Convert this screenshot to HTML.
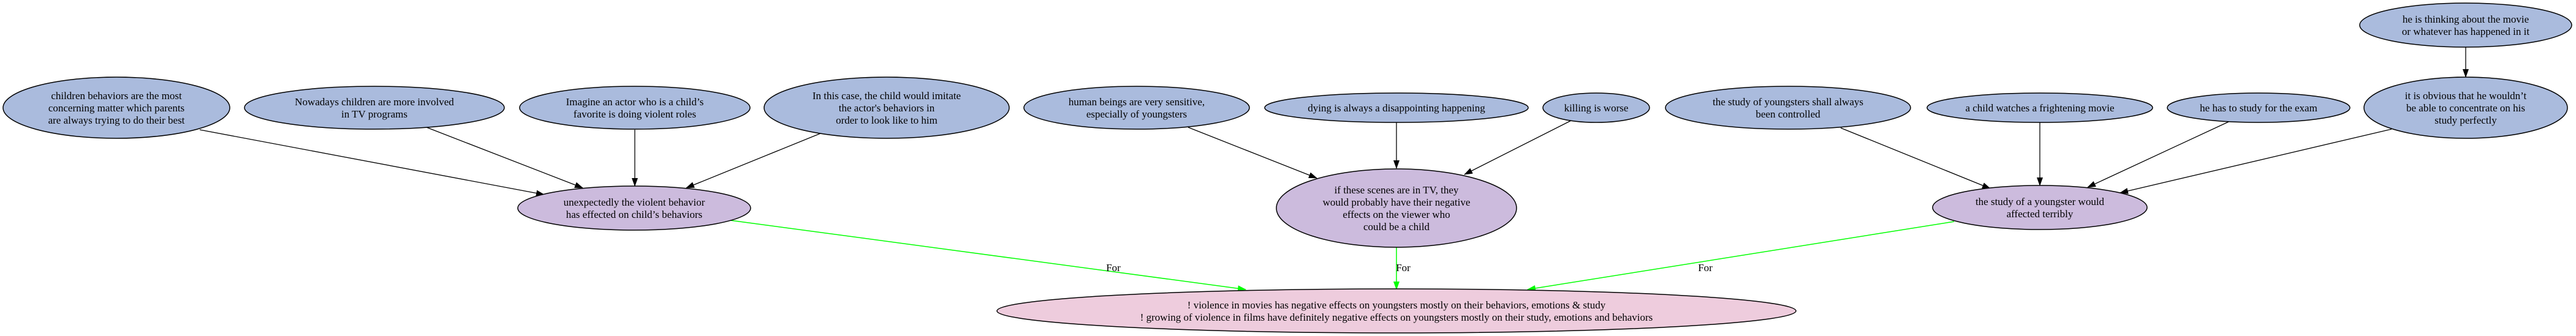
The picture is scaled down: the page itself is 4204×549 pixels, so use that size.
<!DOCTYPE html>
<html><head><meta charset="utf-8"><style>
html,body{margin:0;padding:0;background:#fff;}
svg{display:block;}
text{font-family:"Liberation Serif",serif;font-size:17px;text-anchor:middle;fill:#000;}
.b{fill:#aabbdd;stroke:#000;stroke-width:1.5;}
.p{fill:#ccbbdd;stroke:#000;stroke-width:1.5;}
.k{fill:#eeccdd;stroke:#000;stroke-width:1.5;}
.e{stroke:#000;stroke-width:1.3;fill:none;marker-end:url(#ab);}
.g{stroke:#00ff00;stroke-width:1.5;fill:none;marker-end:url(#ag);}
</style></head><body>
<svg width="4204" height="549" viewBox="0 0 4204 549" xmlns="http://www.w3.org/2000/svg">
<defs>
<marker id="ab" markerUnits="userSpaceOnUse" markerWidth="14" markerHeight="10" refX="13" refY="5" orient="auto"><path d="M0,0 L14,5 L0,10 z" fill="#000"/></marker>
<marker id="ag" markerUnits="userSpaceOnUse" markerWidth="14" markerHeight="10" refX="13" refY="5" orient="auto"><path d="M0,0 L14,5 L0,10 z" fill="#00ff00"/></marker>
</defs>
<!-- edges -->
<line class="e" x1="326" y1="212" x2="888" y2="318"/>
<line class="e" x1="696" y1="208" x2="951" y2="307"/>
<line class="e" x1="1036" y1="212" x2="1036" y2="304"/>
<line class="e" x1="1339" y1="218" x2="1120" y2="307"/>
<line class="e" x1="1939" y1="208" x2="2149" y2="291"/>
<line class="e" x1="2279" y1="200" x2="2279" y2="275"/>
<line class="e" x1="2564" y1="197" x2="2390" y2="285"/>
<line class="e" x1="3004" y1="209" x2="3248" y2="308"/>
<line class="e" x1="3329" y1="200" x2="3329" y2="303"/>
<line class="e" x1="3637" y1="199" x2="3407" y2="306"/>
<line class="e" x1="3903" y1="211" x2="3460" y2="315"/>
<line class="e" x1="4024" y1="77" x2="4024" y2="126"/>
<line class="g" x1="1192" y1="360" x2="2033" y2="473"/>
<line class="g" x1="2279" y1="404" x2="2279" y2="473"/>
<line class="g" x1="3189" y1="362" x2="2493" y2="473"/>
<text x="1817" y="443">For</text>
<text x="2290" y="443">For</text>
<text x="2783" y="443">For</text>
<!-- nodes -->
<ellipse class="b" cx="190" cy="176" rx="185" ry="50"/>
<text x="190" y="162">children behaviors are the most</text>
<text x="190" y="182">concerning matter which parents</text>
<text x="190" y="202">are always trying to do their best</text>
<ellipse class="b" cx="611" cy="176" rx="212" ry="35"/>
<text x="611" y="172">Nowadays children are more involved</text>
<text x="611" y="192">in TV programs</text>
<ellipse class="b" cx="1036" cy="176" rx="188" ry="35"/>
<text x="1036" y="172">Imagine an actor who is a child’s</text>
<text x="1036" y="192">favorite is doing violent roles</text>
<ellipse class="b" cx="1447" cy="176" rx="200" ry="50"/>
<text x="1447" y="162">In this case, the child would imitate</text>
<text x="1447" y="182">the actor's behaviors in</text>
<text x="1447" y="202">order to look like to him</text>
<ellipse class="b" cx="1855" cy="176" rx="184" ry="35"/>
<text x="1855" y="172">human beings are very sensitive,</text>
<text x="1855" y="192">especially of youngsters</text>
<ellipse class="b" cx="2279" cy="176" rx="215" ry="24"/>
<text x="2279" y="182">dying is always a disappointing happening</text>
<ellipse class="b" cx="2605" cy="176" rx="87" ry="24"/>
<text x="2605" y="182">killing is worse</text>
<ellipse class="b" cx="2918" cy="176" rx="200" ry="35"/>
<text x="2918" y="172">the study of youngsters shall always</text>
<text x="2918" y="192">been controlled</text>
<ellipse class="b" cx="3329" cy="176" rx="184" ry="24"/>
<text x="3329" y="182">a child watches a frightening movie</text>
<ellipse class="b" cx="3686" cy="176" rx="149" ry="24"/>
<text x="3686" y="182">he has to study for the exam</text>
<ellipse class="b" cx="4024" cy="176" rx="166" ry="50"/>
<text x="4024" y="162">it is obvious that he wouldn’t</text>
<text x="4024" y="182">be able to concentrate on his</text>
<text x="4024" y="202">study perfectly</text>
<ellipse class="b" cx="4024" cy="41" rx="173" ry="36"/>
<text x="4024" y="37">he is thinking about the movie</text>
<text x="4024" y="57">or whatever has happened in it</text>
<ellipse class="p" cx="1035" cy="340" rx="190" ry="36"/>
<text x="1035" y="336">unexpectedly the violent behavior</text>
<text x="1035" y="356">has effected on child’s behaviors</text>
<ellipse class="p" cx="2279" cy="340" rx="196" ry="64"/>
<text x="2279" y="316">if these scenes are in TV, they</text>
<text x="2279" y="336">would probably have their negative</text>
<text x="2279" y="356">effects on the viewer who</text>
<text x="2279" y="376">could be a child</text>
<ellipse class="p" cx="3329" cy="339" rx="175" ry="36"/>
<text x="3329" y="335">the study of a youngster would</text>
<text x="3329" y="355">affected terribly</text>
<ellipse class="k" cx="2279" cy="508" rx="652" ry="36"/>
<text x="2279" y="504">! violence in movies has negative effects on youngsters mostly on their behaviors, emotions &amp; study</text>
<text x="2279" y="524">! growing of violence in films have definitely negative effects on youngsters mostly on their study, emotions and behaviors</text>
</svg>
</body></html>
